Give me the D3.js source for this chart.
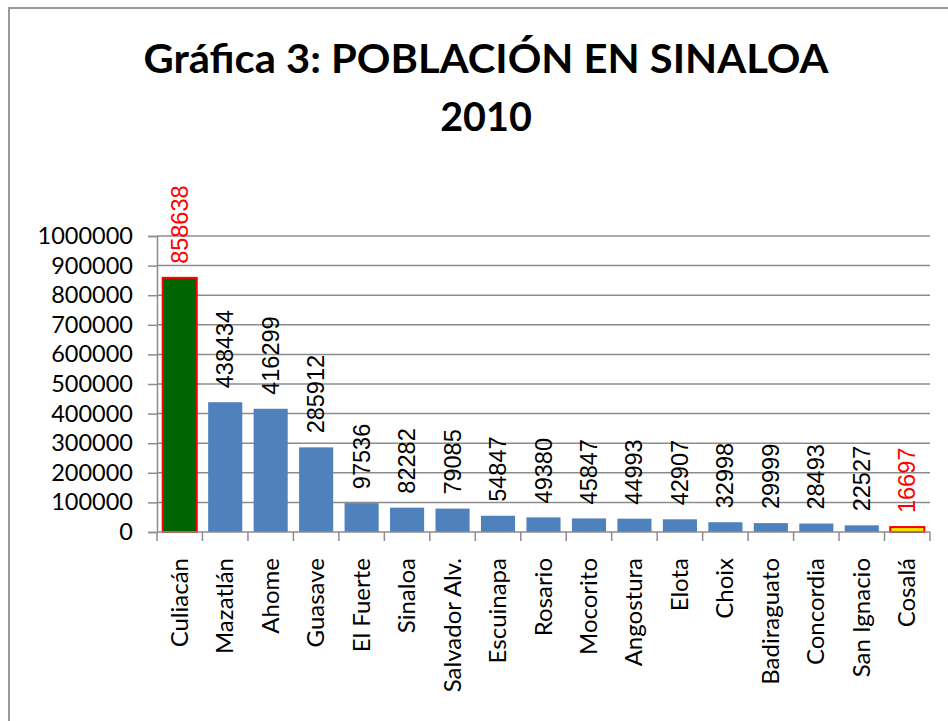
<!DOCTYPE html>
<html>
<head>
<meta charset="utf-8">
<script src="https://cdn.jsdelivr.net/npm/d3@7"></script>
<style>
  body { margin: 0; background: #fff; }
  svg { display: block; }
</style>
</head>
<body>
<div id="chart"></div>
<script>
// data
var municipios = ["Culiacán", "Mazatlán", "Ahome", "Guasave", "El Fuerte", "Sinaloa", "Salvador Alv.",
    "Escuinapa", "Rosario", "Mocorito", "Angostura", "Elota", "Choix", "Badiraguato",
    "Concordia", "San Ignacio", "Cosalá"];
var poblacion = [858638, 438434, 416299, 285912, 97536, 82282, 79085, 54847, 49380,
    45847, 44993, 42907, 32998, 29999, 28493, 22527, 16697];
var yTicks = [0, 100000, 200000, 300000, 400000, 500000, 600000, 700000, 800000, 900000, 1000000];

var W = 948, H = 721;
var margin = {top: 236, left: 157, right: 18, bottom: 189};
var width = W - margin.left - margin.right,
    height = H - margin.top - margin.bottom;

var max = municipios.length - 1;
var data = municipios.map(function(m, i) { return {name: m, value: poblacion[i], i: i}; });

var svg = d3.select("#chart").append("svg")
    .attr("width", W)
    .attr("height", H);

svg.append("rect").attr("width", W).attr("height", H).attr("fill", "#fff");

// outer chart frame (runs off the right/bottom edge)
svg.append("rect")
    .attr("x", 9).attr("y", 8)
    .attr("width", W + 20).attr("height", H + 20)
    .attr("fill", "none")
    .attr("stroke", "#9a9a9a")
    .attr("stroke-width", 2);

// title
var title = svg.append("text")
    .attr("text-anchor", "middle")
    .attr("font-family", "Lato, 'Open Sans', sans-serif")
    .attr("font-weight", "bold")
    .attr("font-size", 39.5)
    .attr("fill", "#000");
title.append("tspan").attr("x", 486).attr("y", 73)
    .attr("textLength", 685).attr("lengthAdjust", "spacingAndGlyphs")
    .text("Gráfica 3: POBLACIÓN EN SINALOA");
title.append("tspan").attr("x", 486).attr("y", 131).text("2010");

var x = d3.scaleBand().domain(municipios).range([0, width]).paddingInner(0.25).paddingOuter(0.125);
var y = d3.scaleLinear().domain([0, 1000000]).range([height, 0]);

var g = svg.append("g").attr("transform", "translate(" + margin.left + "," + margin.top + ")");

// gridlines
g.append("g")
    .selectAll("line")
    .data(yTicks.slice(1))
    .enter().append("line")
    .attr("x1", 0).attr("x2", width)
    .attr("y1", function(d) { return y(d); })
    .attr("y2", function(d) { return y(d); })
    .attr("stroke", "#8c8c8c")
    .attr("stroke-width", 1.5);

// y axis
var yAxis = d3.axisLeft(y).tickValues(yTicks).tickSize(9).tickPadding(15).tickFormat(d3.format("d"));
var ya = g.append("g").attr("class", "axis axis--y").call(yAxis);
ya.select(".domain").attr("stroke", "#8c8c8c").attr("stroke-width", 1.5);
ya.selectAll(".tick line").attr("stroke", "#8c8c8c").attr("stroke-width", 1.5);
ya.selectAll(".tick text")
    .attr("font-family", "Lato, sans-serif")
    .attr("font-size", 23.5)
    .attr("fill", "#000");

// bars
g.selectAll("rect.bar")
    .data(data)
    .enter().append("rect")
    .attr("class", "bar")
    .attr("x", function(d) { return x(d.name); })
    .attr("width", x.bandwidth())
    .attr("y", function(d) { return y(d.value); })
    .attr("height", function(d) { return height - y(d.value); })
    .attr("fill", function(d) {
        if (d.i === 0) return "#006400";
        if (d.i === max) return "#f2e600";
        return "#4f81bd";
    })
    .attr("stroke", function(d) { return (d.i === 0 || d.i === max) ? "#ff0000" : "none"; })
    .attr("stroke-width", 2);

// x axis line + ticks at band edges
var step = x.step();
g.append("line")
    .attr("x1", 0).attr("x2", width)
    .attr("y1", height).attr("y2", height)
    .attr("stroke", "#8c8c8c").attr("stroke-width", 1.5);
g.append("g")
    .selectAll("line")
    .data(d3.range(municipios.length + 1))
    .enter().append("line")
    .attr("x1", function(d) { return d * step; })
    .attr("x2", function(d) { return d * step; })
    .attr("y1", height).attr("y2", height + 9)
    .attr("stroke", "#8c8c8c").attr("stroke-width", 1.5);

// category labels
g.selectAll("text.cat")
    .data(data)
    .enter().append("text")
    .attr("class", "cat")
    .attr("transform", function(d) {
        return "translate(" + (x(d.name) + x.bandwidth() / 2 + 8) + "," + (height + 26) + ") rotate(-90)";
    })
    .attr("text-anchor", "end")
    .attr("font-family", "Lato, sans-serif")
    .attr("font-size", 24)
    .attr("fill", "#000")
    .text(function(d) { return d.name; });

// value labels
g.selectAll("text.val")
    .data(data)
    .enter().append("text")
    .attr("class", "val")
    .attr("transform", function(d) {
        return "translate(" + (x(d.name) + x.bandwidth() / 2 + 8) + "," + (y(d.value) - 14) + ") rotate(-90)";
    })
    .attr("text-anchor", "start")
    .attr("font-family", "'Liberation Sans', Arial, sans-serif")
    .attr("font-size", 23.5)
    .attr("fill", function(d) { return (d.i === 0 || d.i === max) ? "#ff0000" : "#000"; })
    .text(function(d) { return d.value; });
</script>
</body>
</html>
